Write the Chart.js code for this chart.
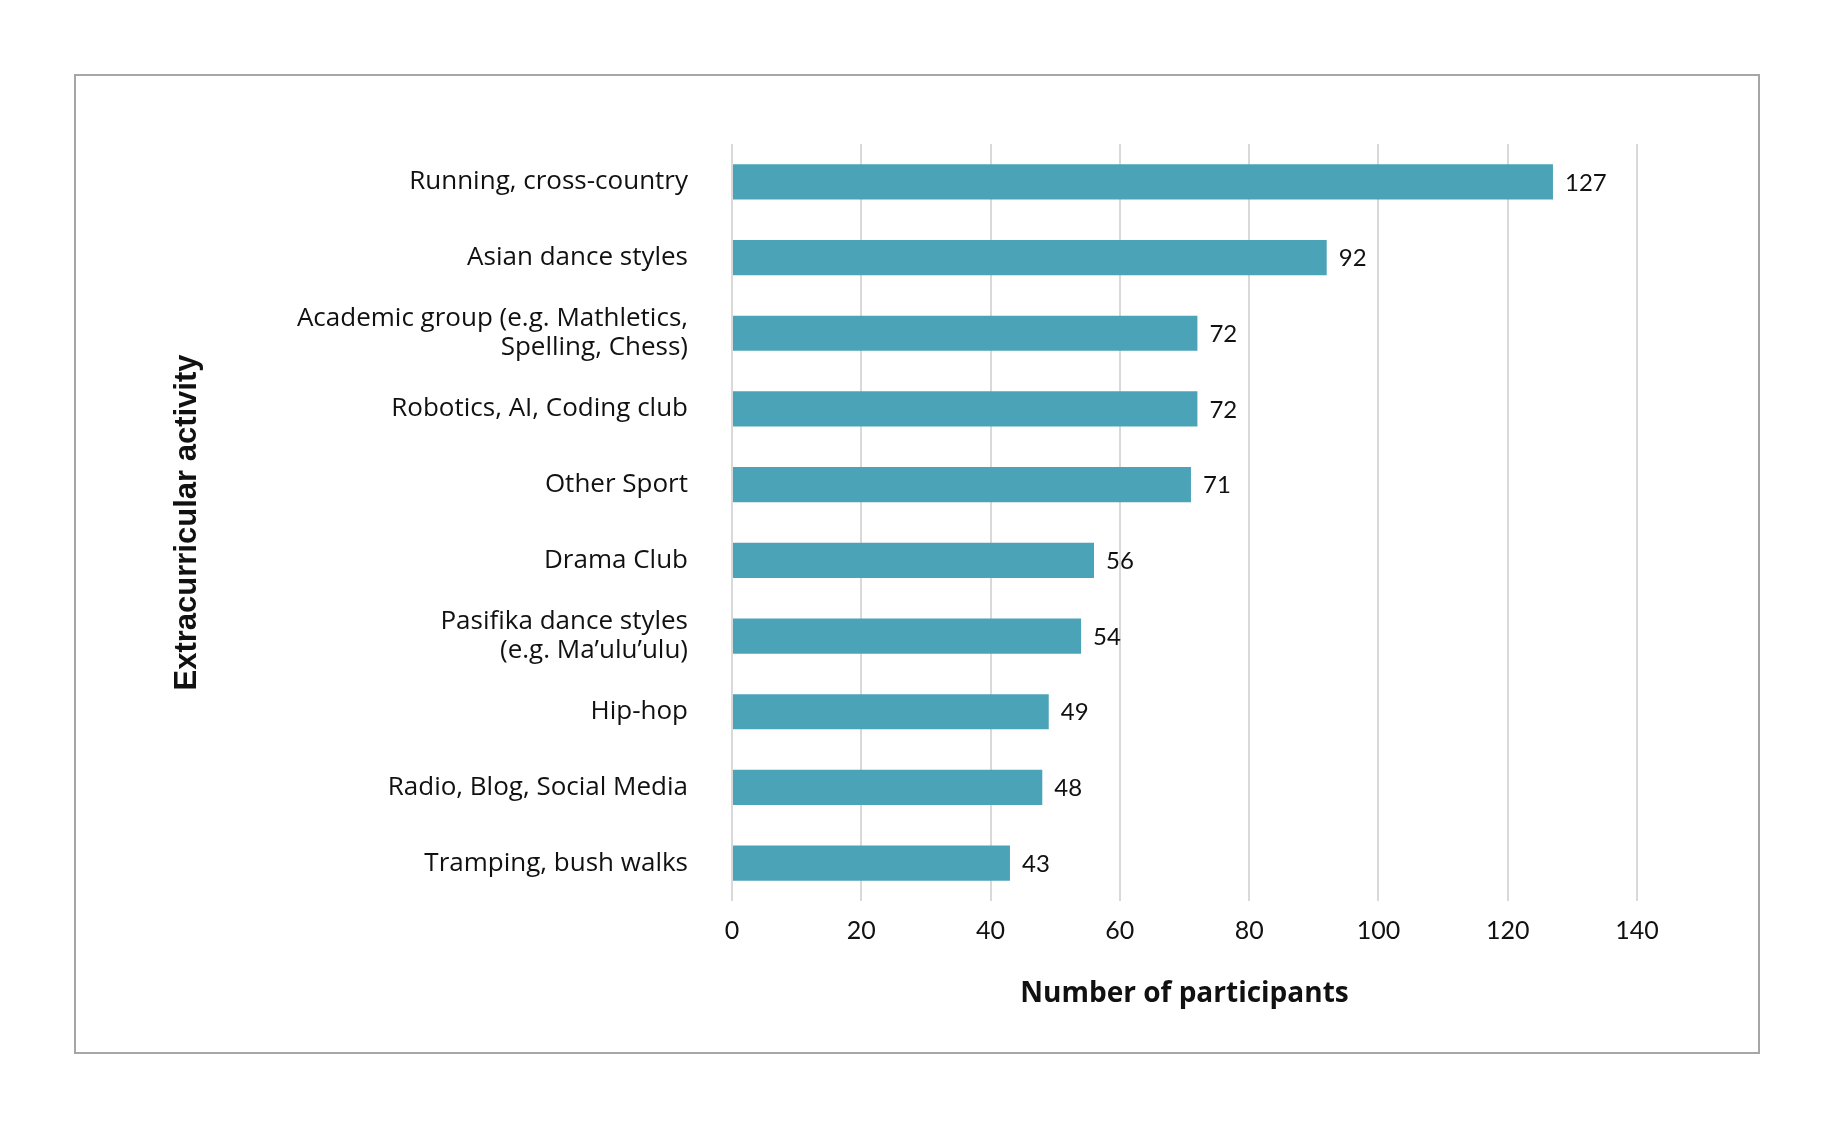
<!DOCTYPE html>
<html>
<head>
<meta charset="utf-8">
<script src="https://cdn.jsdelivr.net/npm/chart.js@4.4.1/dist/chart.umd.min.js"></script>
<style>
  html, body { margin: 0; padding: 0; background: #ffffff; }
  #frame {
    position: absolute; left: 74px; top: 74px;
    width: 1686px; height: 980px;
    border: 2px solid #a6a6a6; box-sizing: border-box;
  }
  #wrap { position: absolute; left: 0; top: 0; width: 1682px; height: 976px; }
</style>
</head>
<body>
<div id="frame"><div id="wrap"><canvas id="c"></canvas></div></div>
<script>
const categories = [
  "Running, cross-country",
  "Asian dance styles",
  ["Academic group (e.g. Mathletics,", "Spelling, Chess)"],
  "Robotics, AI, Coding club",
  "Other Sport",
  "Drama Club",
  ["Pasifika dance styles", "(e.g. Ma\u2019ulu\u2019ulu)"],
  "Hip-hop",
  "Radio, Blog, Social Media",
  "Tramping, bush walks"
];
const participants = [127, 92, 72, 72, 71, 56, 54, 49, 48, 43];
const xTicks = [0, 20, 40, 60, 80, 100, 120, 140];
const xTitle = "Number of participants";
const yTitle = "Extracurricular activity";

const LATO = "Lato, 'Open Sans', sans-serif";
const OPEN = "'Open Sans', 'Noto Sans', sans-serif";

const valueLabels = {
  id: 'valueLabels',
  afterDatasetsDraw(chart) {
    const ctx = chart.ctx;
    const meta = chart.getDatasetMeta(0);
    ctx.save();
    ctx.font = "24px " + LATO;
    ctx.fillStyle = "#111111";
    ctx.textAlign = "left";
    ctx.textBaseline = "middle";
    meta.data.forEach((bar, i) => {
      ctx.fillText(String(participants[i]), bar.x + 12, bar.y + 1);
    });
    ctx.restore();
  }
};

new Chart(document.getElementById('c'), {
  type: 'bar',
  data: {
    labels: categories,
    datasets: [{
      data: participants,
      backgroundColor: '#4ba3b7',
      borderWidth: 0,
      categoryPercentage: 1.0,
      barPercentage: 0.465
    }]
  },
  options: {
    indexAxis: 'y',
    responsive: true,
    maintainAspectRatio: false,
    animation: false,
    layout: { padding: { top: 68, right: 121, left: 0, bottom: 0 } },
    plugins: { legend: { display: false }, tooltip: { enabled: false } },
    scales: {
      x: {
        min: 0, max: 140,
        afterBuildTicks: s => { s.ticks = xTicks.map(v => ({ value: v })); },
        afterFit: s => { s.height = 151; },
        grid: { color: '#d9d9d9', lineWidth: 2, drawTicks: false },
        border: { display: false },
        ticks: { padding: 15, color: '#111111', font: { family: LATO, size: 25 } },
        title: {
          display: true, text: xTitle, color: '#111111',
          font: { family: OPEN, size: 28, weight: 'bold' },
          padding: { top: 0, bottom: 41 }
        }
      },
      y: {
        afterFit: s => { s.width = 656; },
        grid: { display: false, drawTicks: false },
        border: { display: false },
        ticks: { padding: 44, color: '#111111', font: { family: OPEN, size: 26, lineHeight: 1.13 } },
        title: {
          display: true, text: yTitle, color: '#111111',
          font: { family: "'Liberation Sans', Arial, sans-serif", size: 31, weight: 'bold' },
          padding: { top: 93, bottom: 0 }
        }
      }
    }
  },
  plugins: [valueLabels]
});
</script>
</body>
</html>
